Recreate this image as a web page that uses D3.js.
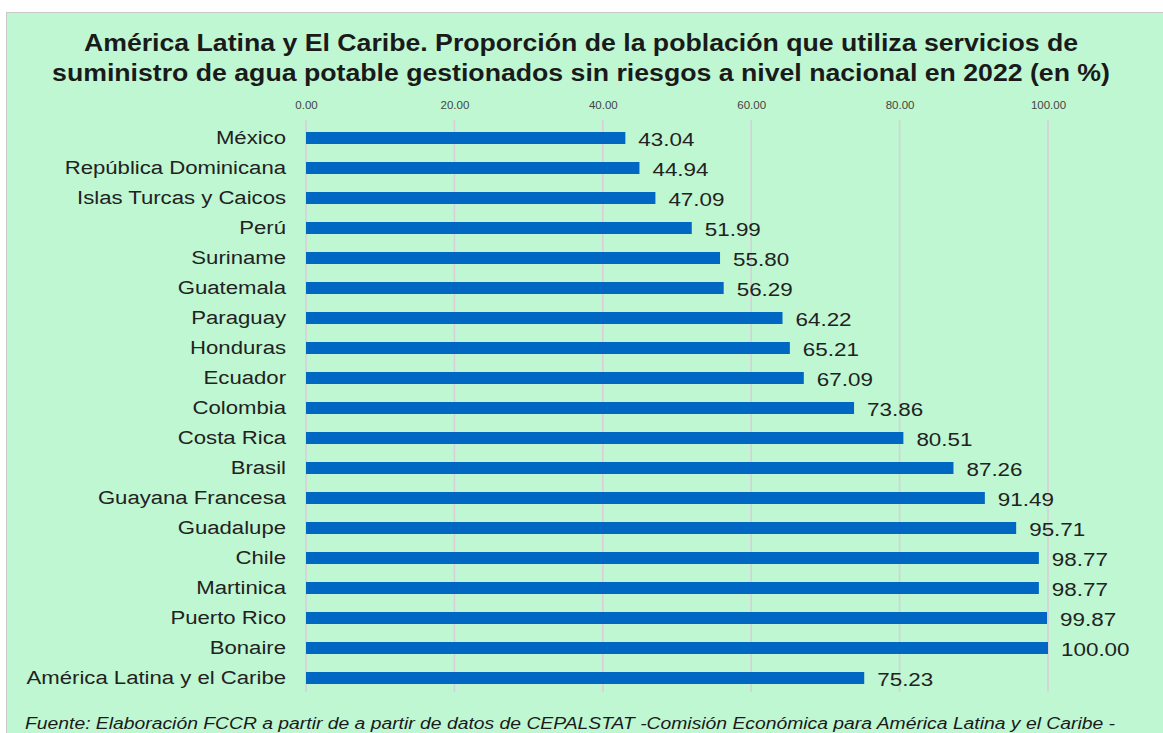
<!DOCTYPE html>
<html>
<head>
<meta charset="utf-8">
<script src="https://cdn.jsdelivr.net/npm/d3@7"></script>
<style>
  body { margin: 0; background: #fff; }
  svg { display: block; }
</style>
</head>
<body>
<div id="graph"></div>
<script>
var countries = ['México', 'República Dominicana', 'Islas Turcas y Caicos', 'Perú', 'Suriname',
  'Guatemala', 'Paraguay', 'Honduras', 'Ecuador', 'Colombia', 'Costa Rica', 'Brasil',
  'Guayana Francesa', 'Guadalupe', 'Chile', 'Martinica', 'Puerto Rico', 'Bonaire',
  'América Latina y el Caribe']
var values = [43.04, 44.94, 47.09, 51.99, 55.80, 56.29, 64.22, 65.21, 67.09, 73.86, 80.51,
  87.26, 91.49, 95.71, 98.77, 98.77, 99.87, 100.00, 75.23]
var ticks = [0, 20, 40, 60, 80, 100]
var titleLines = [
  'América Latina y El Caribe. Proporción de la población que utiliza servicios de',
  'suministro de agua potable gestionados sin riesgos a nivel nacional en 2022 (en %)'
]
var source = 'Fuente: Elaboración FCCR a partir de a partir de datos de CEPALSTAT -Comisión Económica para América Latina y el Caribe -'

var width = 1163, height = 733
var data = countries.map((name, i) => ({name, value: values[i]}))

var svg = d3.select('#graph').append('svg')
  .attr('width', width).attr('height', height)

// green panel
svg.append('rect')
  .attr('x', 6.5).attr('y', 12.5).attr('width', width).attr('height', height)
  .attr('fill', '#bff7d2').attr('stroke', '#c9c9c9')

// the source picture is stretched sideways, so text is too
svg.selectAll('text.title').data(titleLines).enter().append('text')
  .attr('class', 'title')
  .attr('transform', (d, i) => `translate(581,${51 + i * 30}) scale(1.16,1)`)
  .attr('text-anchor', 'middle')
  .style('font', 'bold 23px "Liberation Sans", Arial, sans-serif')
  .attr('fill', '#1a1a1a')
  .text(d => d)

var x = d3.scaleLinear().domain([0, 100]).range([306, 1048])
var y = d3.scaleBand().domain(countries).range([123, 693]).paddingInner(0.6).paddingOuter(0.3)

// grid lines
svg.selectAll('line.grid').data(ticks).enter().append('line')
  .attr('x1', d => x(d)).attr('x2', d => x(d))
  .attr('y1', 120).attr('y2', 692)
  .attr('stroke', '#dccbd9').attr('stroke-width', 1.5)

// top axis labels
var axis = svg.append('g').attr('transform', 'translate(0,112)')
  .call(d3.axisTop(x).tickValues(ticks).tickFormat(d3.format('.2f')).tickSize(0))
axis.select('.domain').remove()
axis.selectAll('text')
  .style('font', '11.5px "Liberation Sans Narrow", "Liberation Sans", Arial, sans-serif')
  .attr('fill', '#444')

// bars
svg.selectAll('rect.bar').data(data).enter().append('rect')
  .attr('class', 'bar')
  .attr('x', x(0)).attr('y', d => y(d.name) + y.bandwidth() / 2 - 6)
  .attr('width', d => x(d.value) - x(0)).attr('height', 12)
  .attr('fill', '#0068c2')

// category labels
svg.selectAll('text.cat').data(data).enter().append('text')
  .attr('class', 'cat')
  .attr('transform', d => `translate(286,${y(d.name) + y.bandwidth() / 2}) scale(1.23,1)`)
  .attr('dy', '0.35em').attr('text-anchor', 'end')
  .style('font', '18px "Liberation Sans", Arial, sans-serif')
  .attr('fill', '#222')
  .text(d => d.name)

// value labels
svg.selectAll('text.val').data(data).enter().append('text')
  .attr('class', 'val')
  .attr('transform', d => `translate(${x(d.value) + 13},${y(d.name) + y.bandwidth() / 2 + 1.5}) scale(1.18,1)`)
  .attr('dy', '0.35em')
  .style('font', '19px "Liberation Sans", Arial, sans-serif')
  .attr('fill', '#222')
  .text(d => d3.format('.2f')(d.value))

svg.append('text')
  .attr('x', 25).attr('y', 729)
  .attr('textLength', 1090).attr('lengthAdjust', 'spacingAndGlyphs')
  .style('font', 'italic 16px "Liberation Sans", Arial, sans-serif')
  .attr('fill', '#1a1a1a')
  .text(source)
</script>
</body>
</html>
